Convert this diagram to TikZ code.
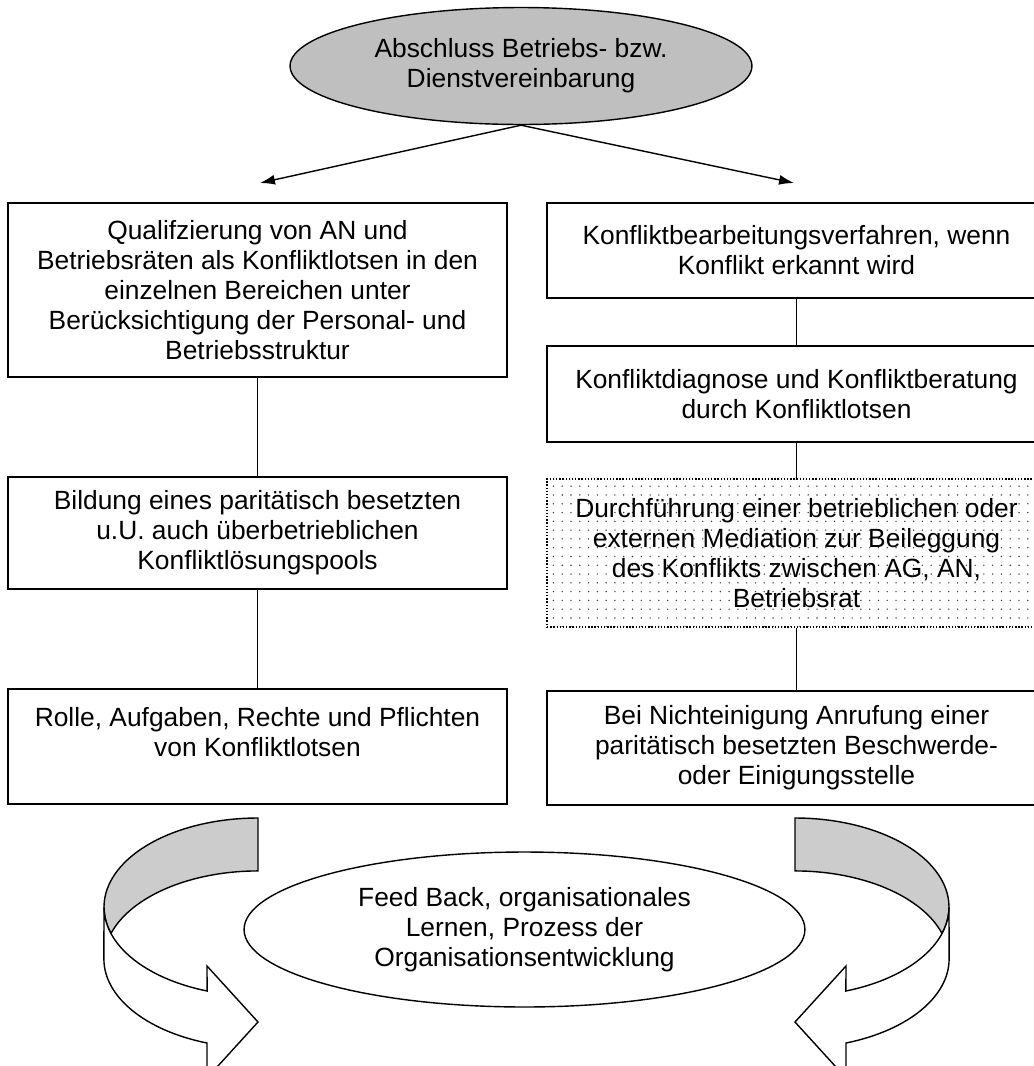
\documentclass[tikz,border=0pt]{standalone}
\usepackage{fontspec}
\setmainfont{Liberation Sans}
\usetikzlibrary{arrows.meta, shapes.geometric, patterns.meta}

\begin{document}
\begin{tikzpicture}[x=0.02cm, y=-0.02cm, line width=0.8pt,
	font=\fontsize{15}{17.1}\selectfont,
	kasten/.style={draw, rectangle, align=center, minimum width=9.98cm, inner sep=0pt},
	oval/.style={draw, ellipse, align=center, inner sep=0pt},
	punkte/.style={densely dotted, pattern={Dots[distance=5pt, radius=0.45pt]}, pattern color=black!75},
	pfeil/.style={-{Latex[length=8.5pt, width=5.7pt]}},
	band/.style={x radius=154, y radius=89}]
		\useasboundingbox (0,0) rectangle (1034,1066);
		\clip (0,0) rectangle (1034,1066);
		
		\node (Abschluss) at (521,66) [oval, fill=black!25, minimum width=9.24cm, 
		minimum height=2.34cm]{Abschluss Betriebs- bzw.\\Dienstvereinbarung};
		
		\coordinate (links) at (260,183);
		\coordinate (rechts) at (794,183);
		
		\node (Qualifizierung) at (257.5,290) [kasten, minimum height=3.48cm]{Qualifzierung von AN und\\
		Betriebsräten als Konfliktlotsen in den\\einzelnen Bereichen unter\\
		Berücksichtigung der Personal- und\\Betriebsstruktur};
		
		\node (Pool) at (257.5,533) [kasten, minimum height=2.24cm]{Bildung eines paritätisch besetzten\\
		u.U. auch überbetrieblichen\\Konfliktlösungspools};
		
		\node (Rolle) at (257.5,746.5) [kasten, minimum height=2.3cm]{Rolle, Aufgaben, Rechte und Pflichten\\
		von Konfliktlotsen\\\mbox{}};
		
		\node (Verfahren) at (796.5,250.5) [kasten, minimum height=1.9cm]{Konfliktbearbeitungsverfahren, wenn\\
		Konflikt erkannt wird};
		
		\node (Diagnose) at (796.5,394) [kasten, minimum height=1.92cm]{Konfliktdiagnose und Konfliktberatung\\
		durch Konfliktlotsen};
		
		\node (Mediation) at (796.5,553) [kasten, punkte, minimum height=2.96cm]{Durchführung einer betrieblichen oder\\
		externen Mediation zur Beileggung\\des Konflikts zwischen AG, AN,\\Betriebsrat};
		
		\node (Einigungsstelle) at (796.5,748) [kasten, minimum height=2.28cm]{Bei Nichteinigung Anrufung einer\\
		paritätisch besetzten Beschwerde-\\oder Einigungsstelle};
		
		\node (Feedback) at (524.5,929.5) [oval, minimum width=11.22cm, minimum height=3.1cm]{Feed Back, organisationales\\
		Lernen, Prozess der\\Organisationsentwicklung};
		
		%Links
		\draw[pfeil] (Abschluss.south) -- (links);
		\draw[pfeil] (Abschluss.south) -- (rechts);
		\draw (Qualifizierung) -- (Pool);
		\draw (Pool) -- (Rolle);
		\draw (Verfahren) -- (Diagnose);
		\draw (Diagnose) -- (Mediation);
		\draw (Mediation) -- (Einigungsstelle);
		
		%Rueckkopplung
		\foreach \spiegel/\versatz in {1/0, -1/1053} {
		\begin{scope}[shift={(\versatz,0)}, xscale=\spiegel]
		\filldraw[fill=black!20] (258,818) arc[band, start angle=270, end angle=162.7] 
		arc[band, start angle=197.3, end angle=270] -- cycle;
		\filldraw[fill=white] (104,907) arc[band, start angle=180, end angle=109.3] -- (207,966) 
		-- (258,1022) -- (207,1078) -- (207,1043) arc[band, start angle=109.3, end angle=180] -- cycle;
		\end{scope}
		}
		
\end{tikzpicture}
\end{document}
